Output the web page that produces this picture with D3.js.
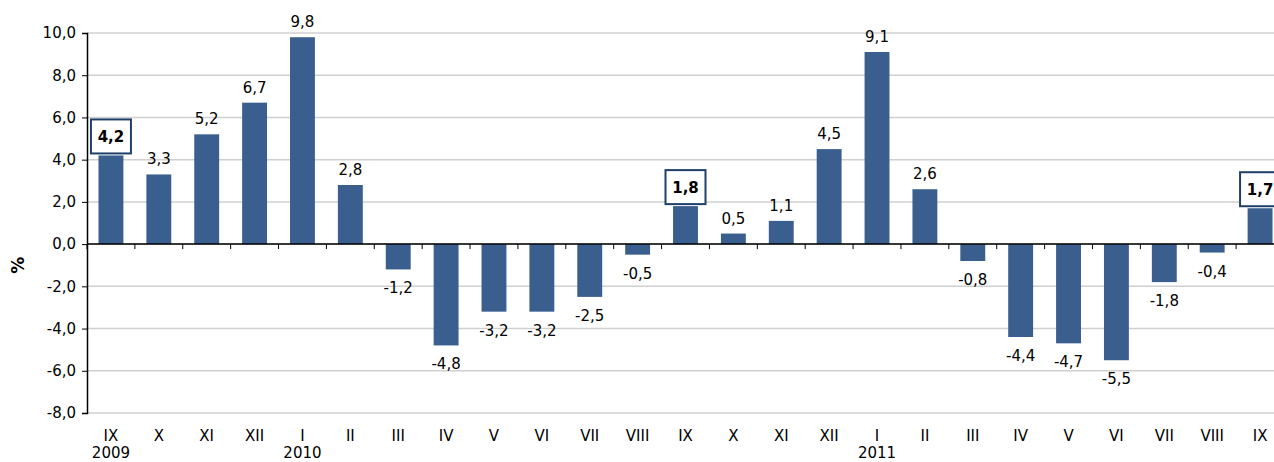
<!DOCTYPE html>
<html>
<head>
<meta charset="utf-8">
<script src="https://cdn.jsdelivr.net/npm/d3@7"></script>
<style>
  body { margin: 0; background: #fff; }
  svg { display: block; font-family: "DejaVu Sans", Verdana, sans-serif; }
  .grid line { stroke: #d0d0d0; stroke-width: 1.5; }
  .val { font-size: 15px; fill: #000; }
  .hl { font-size: 15px; font-weight: bold; }
</style>
</head>
<body>
<svg class="chart" width="1274" height="462"></svg>
<script>
var months = ["IX","X","XI","XII","I","II","III","IV","V","VI","VII","VIII",
              "IX","X","XI","XII","I","II","III","IV","V","VI","VII","VIII","IX"];
var years = ["2009","","","","2010","","","","","","","","","","","","2011","","","","","","","",""];
var values = [4.2, 3.3, 5.2, 6.7, 9.8, 2.8, -1.2, -4.8, -3.2, -3.2, -2.5, -0.5,
              1.8, 0.5, 1.1, 4.5, 9.1, 2.6, -0.8, -4.4, -4.7, -5.5, -1.8, -0.4, 1.7];
var highlighted = [0, 12, 24];
var yTicks = [10, 8, 6, 4, 2, 0, -2, -4, -6, -8];

var margin = {top: 33, left: 87};
var plotW = 1197, plotH = 380;
var svg = d3.select(".chart");
var g = svg.append("g").attr("transform", "translate(" + margin.left + "," + margin.top + ")");

var x = d3.scaleBand().domain(d3.range(values.length)).range([0, plotW]).paddingInner(0.48).paddingOuter(0.24);
var y = d3.scaleLinear().domain([-8, 10]).range([plotH, 0]);
var fmt = function(v) { return d3.format(".1f")(v).replace(".", ",").replace("−", "-"); };

// gridlines
g.append("g").attr("class", "grid")
  .selectAll("line").data(yTicks).join("line")
  .attr("x1", 0).attr("x2", 1274)
  .attr("y1", function(d) { return y(d); }).attr("y2", function(d) { return y(d); });

// y axis
var yAxis = g.append("g")
  .call(d3.axisLeft(y).tickValues(yTicks).tickSize(5).tickPadding(6).tickFormat(fmt));
yAxis.select(".domain").attr("stroke", "#000").attr("stroke-width", 1.5);
yAxis.selectAll("text").style("font-size", "15px").style("font-family", "DejaVu Sans, Verdana, sans-serif").attr("fill", "#000");

svg.append("text")
  .attr("transform", "translate(24," + (margin.top + y(-1)) + ") rotate(-90)")
  .attr("text-anchor", "middle")
  .style("font-size", "17px").style("font-weight", "bold")
  .text("%");

// bars
g.selectAll("rect.bar").data(values).join("rect")
  .attr("class", "bar")
  .attr("x", function(d, i) { return x(i); })
  .attr("width", x.bandwidth())
  .attr("y", function(d) { return y(Math.max(0, d)); })
  .attr("height", function(d) { return Math.abs(y(d) - y(0)); })
  .attr("fill", "#3a5f8f");

// zero line + category ticks
g.append("line").attr("x1", 0).attr("x2", 1274).attr("y1", y(0)).attr("y2", y(0))
  .attr("stroke", "#000").attr("stroke-width", 1.5);
g.selectAll("line.ctick").data(d3.range(values.length + 1)).join("line")
  .attr("class", "ctick")
  .attr("x1", function(i) { return i * x.step(); })
  .attr("x2", function(i) { return i * x.step(); })
  .attr("y1", y(0)).attr("y2", y(0) + 5)
  .attr("stroke", "#000").attr("stroke-width", 1);

// value labels
var normal = values.map(function(v, i) { return {v: v, i: i}; })
  .filter(function(d) { return highlighted.indexOf(d.i) < 0; });
g.selectAll("text.val").data(normal).join("text")
  .attr("class", "val")
  .attr("text-anchor", "middle")
  .attr("x", function(d) { return x(d.i) + x.bandwidth() / 2; })
  .attr("y", function(d) { return d.v >= 0 ? y(d.v) - 10 : y(d.v) + 24; })
  .text(function(d) { return fmt(d.v); });

// highlighted labels in boxes
var hl = g.selectAll("g.hl").data(highlighted).join("g")
  .attr("transform", function(i) {
    return "translate(" + (x(i) + x.bandwidth() / 2) + "," + (y(values[i]) - 19) + ")";
  });
hl.append("rect")
  .attr("x", -20).attr("y", -17).attr("width", 40).attr("height", 34)
  .attr("fill", "#fff").attr("stroke", "#1f3f6a").attr("stroke-width", 2);
hl.append("text").attr("class", "hl")
  .attr("text-anchor", "middle").attr("dy", "0.36em")
  .text(function(i) { return fmt(values[i]); });

// category labels
g.selectAll("text.mon").data(months).join("text")
  .attr("text-anchor", "middle")
  .attr("x", function(d, i) { return x(i) + x.bandwidth() / 2; })
  .attr("y", plotH + 28)
  .style("font-size", "15px")
  .text(function(d) { return d; });
g.selectAll("text.yr").data(years).join("text")
  .attr("text-anchor", "middle")
  .attr("x", function(d, i) { return x(i) + x.bandwidth() / 2; })
  .attr("y", plotH + 45)
  .style("font-size", "15px")
  .text(function(d) { return d; });
</script>
</body>
</html>
